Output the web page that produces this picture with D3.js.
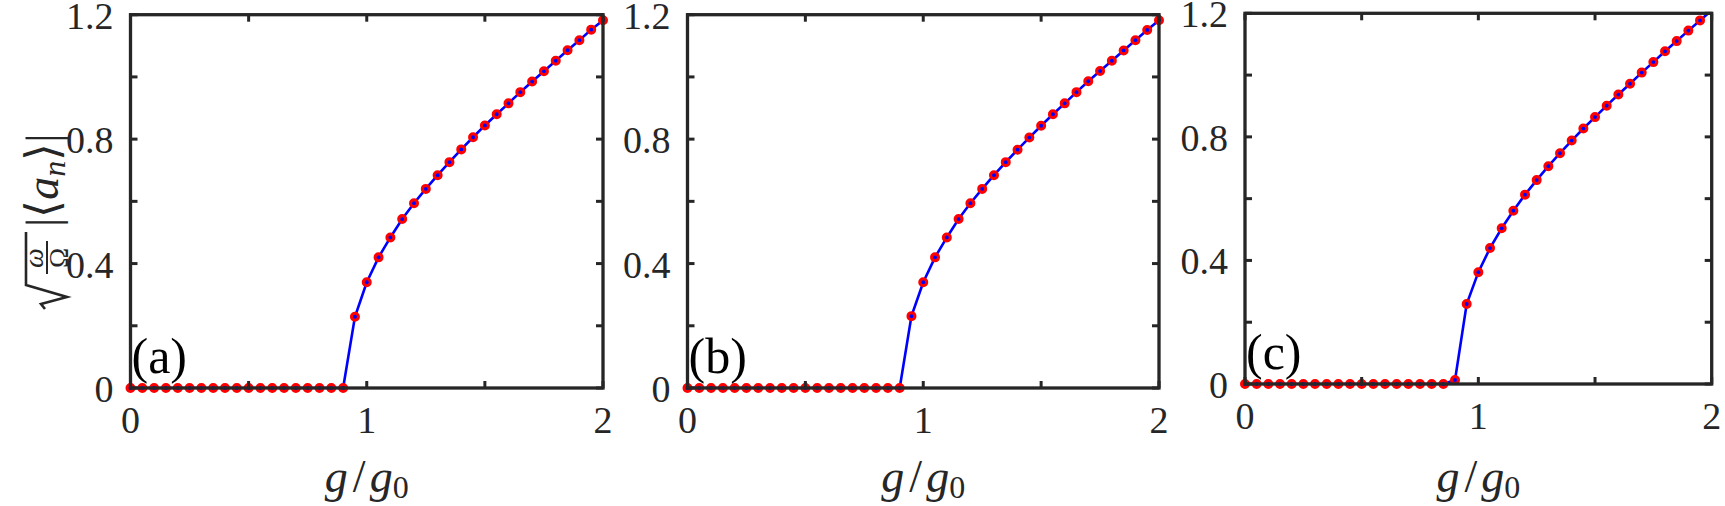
<!DOCTYPE html>
<html><head><meta charset="utf-8">
<script src="https://cdn.jsdelivr.net/npm/d3@7"></script>
<style>
body{margin:0;background:#fff}
</style>
</head><body>
<svg id="chart" width="1725" height="506"></svg>
<script>
// ---------------- data ----------------
const gRatio = [0,0.05,0.1,0.15,0.2,0.25,0.3,0.35,0.4,0.45,0.5,0.55,0.6,0.65,0.7,0.75,0.8,0.85,0.9,0.95,
                1.0,1.05,1.1,1.15,1.2,1.25,1.3,1.35,1.4,1.45,1.5,1.55,1.6,1.65,1.7,1.75,1.8,1.85,1.9,1.95,2.0];
const ampA = [0,0,0,0,0,0,0,0,0,0,0,0,0,0,0,0,0,0,0,0.229,
              0.340,0.420,0.484,0.543,0.594,0.640,0.684,0.726,0.767,0.806,0.844,0.880,0.915,0.951,0.985,1.018,1.052,1.086,1.118,1.152,1.182];
const ampB = [0,0,0,0,0,0,0,0,0,0,0,0,0,0,0,0,0,0,0,0.231,
              0.340,0.420,0.484,0.543,0.594,0.640,0.684,0.726,0.766,0.805,0.843,0.880,0.915,0.951,0.986,1.019,1.052,1.085,1.118,1.151,1.182];
const ampC = [0,0,0,0,0,0,0,0,0,0,0,0,0,0,0,0,0,0,0.013,0.259,
              0.362,0.440,0.504,0.561,0.613,0.660,0.705,0.747,0.788,0.827,0.864,0.901,0.937,0.972,1.008,1.042,1.077,1.110,1.144,1.177,1.210];
const panelNames = ["(a)","(b)","(c)"];
const xTickValues = [0,0.5,1,1.5,2];
const xTickLabels = ["0","","1","","2"];
const yTickValues = [0,0.2,0.4,0.6,0.8,1.0,1.2];
const yTickLabels = ["0","","0.4","","0.8","","1.2"];
const xDomain = [0,2];
const yDomain = [0,1.2];

// ---------------- layout ----------------
const FONT = "'Liberation Serif'";
const svg = d3.select("#chart");
const boxes = [
  {l:130.5, r:603,    t:14.7, b:388},
  {l:687.5, r:1159,   t:14.7, b:388},
  {l:1245,  r:1711.7, t:13.3, b:384}
];
const series = [ampA, ampB, ampC];
const axisColor = "#262626";
const fs = 38;

function txt(parent, s, size) {
  return parent.append("text").attr("font-size", size).attr("fill", axisColor)
    .style("font-family", FONT).text(s);
}

boxes.forEach((bx, i) => {
  const x = d3.scaleLinear().domain(xDomain).range([bx.l, bx.r]);
  const y = d3.scaleLinear().domain(yDomain).range([bx.b, bx.t]);
  const g = svg.append("g");
  const clipId = "clip" + i;
  svg.append("clipPath").attr("id", clipId).append("rect")
    .attr("x", bx.l).attr("y", bx.t).attr("width", bx.r - bx.l).attr("height", bx.b - bx.t);

  const pts = gRatio.map((v, k) => ({gx: v, gy: series[i][k]}));

  g.append("path").datum(pts)
    .attr("clip-path", `url(#${clipId})`)
    .attr("fill", "none").attr("stroke", "#0000ff").attr("stroke-width", 2.6)
    .attr("d", d3.line().x(d => x(d.gx)).y(d => y(d.gy)));

  const inside = pts.filter(d => d.gy <= yDomain[1]);
  g.append("g").selectAll("circle").data(inside).join("circle")
    .attr("cx", d => x(d.gx)).attr("cy", d => y(d.gy)).attr("r", 4)
    .attr("fill", "#ff0000").attr("stroke", "#ff0000").attr("stroke-width", 2);
  g.append("g").selectAll("circle").data(inside).join("circle")
    .attr("cx", d => x(d.gx)).attr("cy", d => y(d.gy)).attr("r", 1.9)
    .attr("fill", "#0000ff");

  // inner ticks on all four sides, placed with the scales
  const tl = 7;
  const tk = g.append("g").attr("stroke", axisColor).attr("stroke-width", 3);
  xTickValues.forEach(v => {
    tk.append("line").attr("x1", x(v)).attr("x2", x(v)).attr("y1", bx.b).attr("y2", bx.b - tl);
    tk.append("line").attr("x1", x(v)).attr("x2", x(v)).attr("y1", bx.t).attr("y2", bx.t + tl);
  });
  yTickValues.forEach(v => {
    tk.append("line").attr("y1", y(v)).attr("y2", y(v)).attr("x1", bx.l).attr("x2", bx.l + tl);
    tk.append("line").attr("y1", y(v)).attr("y2", y(v)).attr("x1", bx.r).attr("x2", bx.r - tl);
  });
  xTickValues.forEach((v, k) => {
    if (!xTickLabels[k]) return;
    txt(g, xTickLabels[k], fs).attr("x", x(v)).attr("y", bx.b + 45).attr("text-anchor", "middle");
  });
  yTickValues.forEach((v, k) => {
    if (!yTickLabels[k]) return;
    txt(g, yTickLabels[k], fs).attr("x", bx.l - 17).attr("y", y(v) + 14).attr("text-anchor", "end");
  });

  g.append("rect").attr("x", bx.l).attr("y", bx.t).attr("width", bx.r - bx.l).attr("height", bx.b - bx.t)
    .attr("fill", "none").attr("stroke", axisColor).attr("stroke-width", 3.3);

  // panel label
  txt(g, panelNames[i], 50).attr("x", bx.l + 1).attr("y", bx.b - 15).attr("fill", "#000");

  // x label g/g0
  const xl = txt(g, "", 46).attr("x", (bx.l + bx.r) / 2).attr("y", 492).attr("text-anchor", "middle");
  xl.append("tspan").attr("font-style", "italic").text("g");
  xl.append("tspan").attr("dx", 5).text("/");
  xl.append("tspan").attr("dx", 4).attr("font-style", "italic").text("g");
  xl.append("tspan").attr("font-size", 32).attr("dy", 6).text("0");
});

// y label: sqrt(omega/Omega) |<a_n>|
const yl = svg.append("g").attr("transform", "translate(58,310) rotate(-90)");
yl.append("path")
  .attr("d", "M1,-13 L6,-17 L13,9 L25,-32 L78,-32")
  .attr("fill", "none").attr("stroke", axisColor).attr("stroke-width", 2.6).attr("stroke-linejoin", "miter");
txt(yl, "ω", 28).attr("x", 52).attr("y", -15).attr("text-anchor", "middle").attr("font-style", "italic");
yl.append("line").attr("x1", 36).attr("x2", 69).attr("y1", -11).attr("y2", -11)
  .attr("stroke", axisColor).attr("stroke-width", 2);
txt(yl, "Ω", 27).attr("x", 52).attr("y", 10).attr("text-anchor", "middle");
const yt = txt(yl, "", 46).attr("x", 83).attr("y", 0);
yt.append("tspan").text("|⟨");
yt.append("tspan").attr("font-style", "italic").text("a");
yt.append("tspan").attr("font-style", "italic").attr("font-size", 32).attr("dy", 7).text("n");
yt.append("tspan").attr("dy", -7).text("⟩|");
</script>
</body></html>
